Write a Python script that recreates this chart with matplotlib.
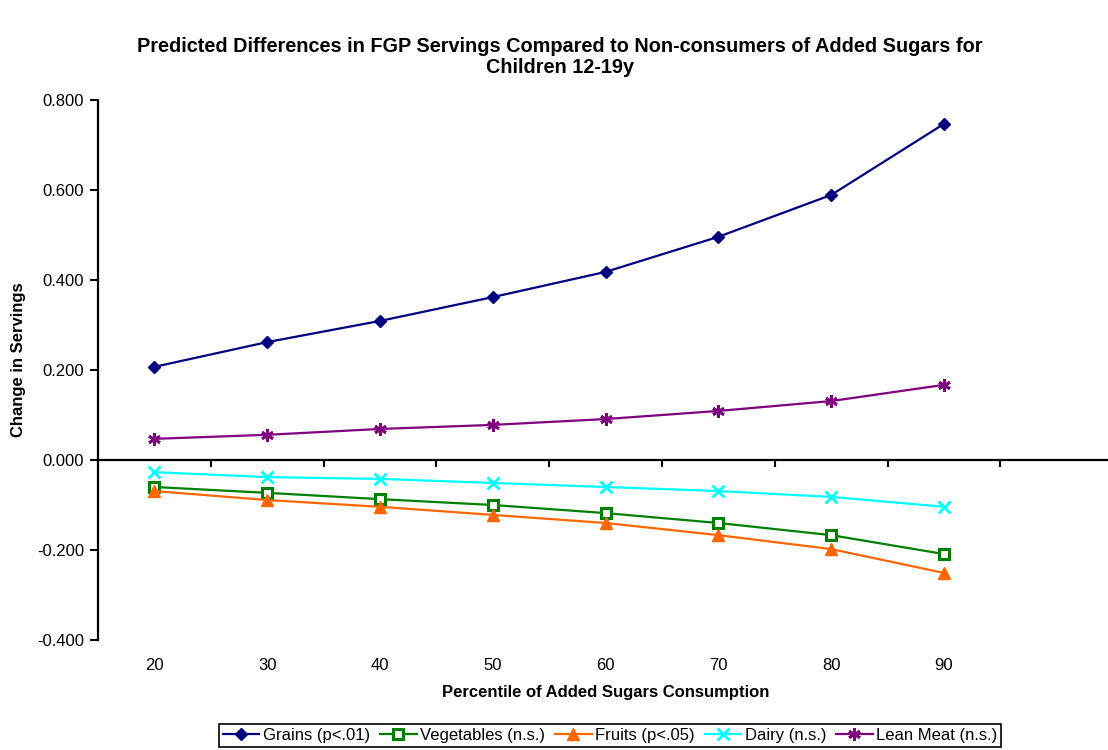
import matplotlib
matplotlib.use("Agg")
import matplotlib.pyplot as plt
from matplotlib.transforms import blended_transform_factory

plt.rcParams['font.family'] = ['Liberation Sans', 'DejaVu Sans']

categories = ["20", "30", "40", "50", "60", "70", "80", "90"]
grains = [0.207, 0.262, 0.309, 0.362, 0.418, 0.496, 0.589, 0.747]
vegetables = [-0.060, -0.073, -0.087, -0.100, -0.118, -0.140, -0.167, -0.209]
fruits = [-0.069, -0.089, -0.104, -0.122, -0.140, -0.167, -0.198, -0.251]
dairy = [-0.027, -0.038, -0.042, -0.051, -0.060, -0.069, -0.082, -0.104]
lean_meat = [0.047, 0.056, 0.069, 0.078, 0.091, 0.109, 0.131, 0.167]
y_ticks = [-0.4, -0.2, 0.0, 0.2, 0.4, 0.6, 0.8]

fig = plt.figure(figsize=(11.08, 7.5), dpi=100)
ax = fig.add_axes([98/1108, 1-640/750, 1-98/1108, 540/750])

x = list(range(len(categories)))
ax.plot(x, grains, color='#000080', lw=1.6, marker='D', ms=6, label='Grains (p<.01)')
ax.plot(x, vegetables, color='#008000', lw=1.6, marker='s', ms=7, mfc='white', mec='#008000', mew=2.2, label='Vegetables (n.s.)')
ax.plot(x, fruits, color='#FF6600', lw=1.6, marker='^', ms=8, label='Fruits (p<.05)')
ax.plot(x, dairy, color='#00FFFF', lw=1.6, marker='x', ms=8, mew=2, label='Dairy (n.s.)')
ax.plot(x, lean_meat, color='#800080', lw=1.6, marker=(6, 2, 0), ms=9, mew=2, label='Lean Meat (n.s.)')

ax.set_xlim(-0.5, -0.5 + (1108-98)/112.8)
ax.set_ylim(-0.4, 0.8)
ax.set_yticks(y_ticks)
ax.set_yticklabels([f"{v:.3f}" for v in y_ticks], fontsize=12)
ax.tick_params(axis='y', direction='out', length=6, width=1.5, pad=4)

ax.spines['top'].set_visible(False)
ax.spines['right'].set_visible(False)
ax.spines['left'].set_linewidth(1.6)
ax.spines['bottom'].set_position(('data', 0))
ax.spines['bottom'].set_linewidth(1.6)
ax.set_xticks([i + 0.5 for i in range(len(categories))])
ax.set_xticklabels([])
ax.tick_params(axis='x', direction='out', length=5, width=1.5)

trans = blended_transform_factory(ax.transData, fig.transFigure)
for i, c in enumerate(categories):
    ax.text(i, 1-665/750, c, transform=trans, ha='center', va='center', fontsize=12)

fig.text(606/1108, 1-692/750, 'Percentile of Added Sugars Consumption', ha='center', va='center',
         fontsize=12, fontweight='bold')
fig.text(19/1108, 1-360/750, 'Change in Servings', ha='center', va='center', rotation=90,
         fontsize=12, fontweight='bold')
fig.text(560/1108, 1-47/750, 'Predicted Differences in FGP Servings Compared to Non-consumers of Added Sugars for',
         ha='center', va='center', fontsize=14.3, fontweight='bold')
fig.text(560/1108, 1-67.5/750, 'Children 12-19y', ha='center', va='center', fontsize=14.3, fontweight='bold')

leg = fig.legend(loc='lower center', bbox_to_anchor=(610/1108, 3/750), ncol=5, fontsize=12,
                 frameon=True, fancybox=False, edgecolor='black', framealpha=1,
                 handlelength=2.2, handletextpad=0.2, columnspacing=0.6, borderpad=0.25,
                 borderaxespad=0)
leg.get_frame().set_linewidth(1.2)

fig.savefig('out.png', dpi=100)
